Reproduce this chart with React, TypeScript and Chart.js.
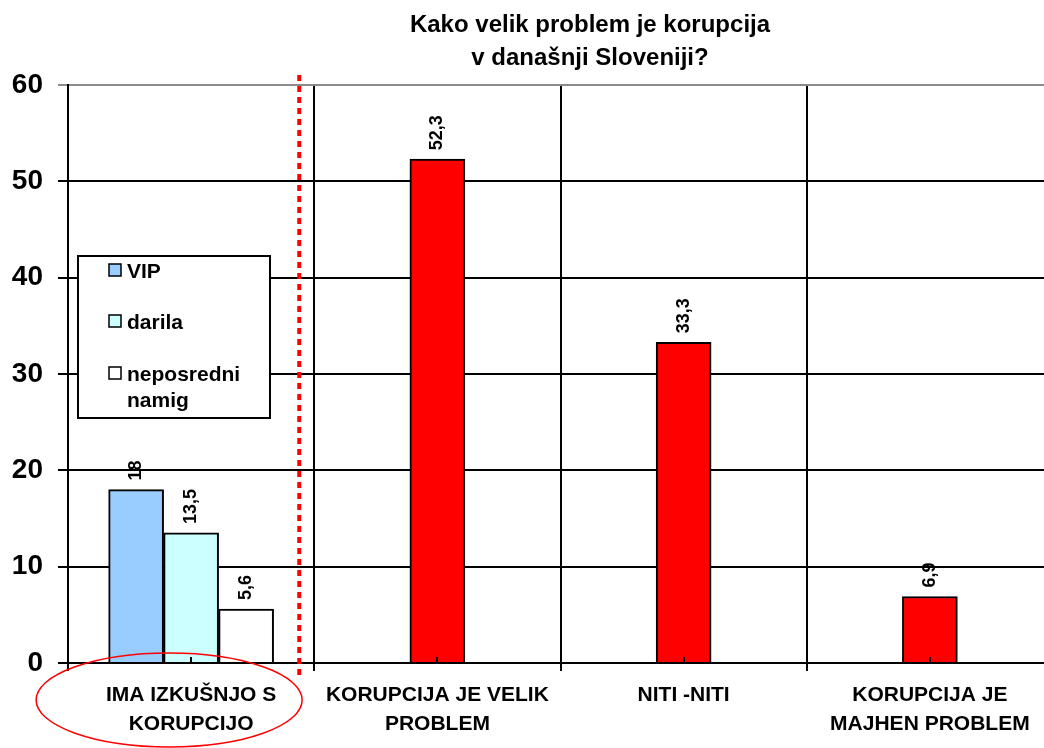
import React, { useEffect, useRef } from 'react';
import { Chart, registerables } from 'chart.js';

Chart.register(...registerables);

const categories: string[][] = [
  ['IMA IZKUŠNJO S', 'KORUPCIJO'],
  ['KORUPCIJA JE VELIK', 'PROBLEM'],
  ['NITI -NITI'],
  ['KORUPCIJA JE', 'MAJHEN PROBLEM'],
];
const vipValues = [18, null, null, null];
const darilaValues = [13.5, null, null, null];
const namigValues = [5.6, null, null, null];
const problemValues = [null, 52.3, 33.3, 6.9];
const legendLabels: string[][] = [['VIP'], ['darila'], ['neposredni', 'namig']];
const titleLines = ['Kako velik problem je korupcija', 'v današnji Sloveniji?'];
const yMin = 0;
const yMax = 60;
const yStep = 10;

const FONT = '"Liberation Sans", Arial, Helvetica, sans-serif';
const COL_VIP = '#99CCFF';
const COL_DARILA = '#CCFFFF';
const COL_NAMIG = '#FFFFFF';
const COL_RED = '#FF0000';

export default function App() {
  const ref = useRef<HTMLCanvasElement>(null);

  useEffect(() => {
    const canvas = ref.current!;
    const swatchColors = [COL_VIP, COL_DARILA, COL_NAMIG];

    const decor = {
      id: 'decor',
      afterDatasetsDraw(chart: any) {
        const ctx = chart.ctx as CanvasRenderingContext2D;
        const xs = chart.scales.x;
        const area = chart.chartArea;
        // small inner ticks at category centres
        ctx.save();
        ctx.strokeStyle = '#000';
        ctx.lineWidth = 2;
        for (let i = 0; i < categories.length; i++) {
          const px = Math.round(xs.getPixelForValue(i));
          ctx.beginPath();
          ctx.moveTo(px, area.bottom);
          ctx.lineTo(px, area.bottom - 6);
          ctx.stroke();
        }
        ctx.restore();
        // data labels
        ctx.save();
        ctx.fillStyle = '#000';
        ctx.font = `bold 18px ${FONT}`;
        chart.data.datasets.forEach((ds: any, di: number) => {
          const meta = chart.getDatasetMeta(di);
          meta.data.forEach((el: any, j: number) => {
            const v = ds.data[j];
            if (v === null || v === undefined) return;
            const p = el.getProps(['x', 'y'], true);
            if (!isFinite(p.x) || !isFinite(p.y)) return;
            ctx.save();
            ctx.translate(p.x, p.y - 9);
            ctx.rotate(-Math.PI / 2);
            ctx.textAlign = 'left';
            ctx.textBaseline = 'middle';
            ctx.fillText(String(v).replace('.', ','), 0, 0);
            ctx.restore();
          });
        });
        ctx.restore();
      },
      afterDraw(chart: any) {
        const ctx = chart.ctx as CanvasRenderingContext2D;
        const xs = chart.scales.x;
        const area = chart.chartArea;
        const c0 = xs.getPixelForValue(0);
        const c1 = xs.getPixelForValue(1);

        // red dotted separator
        ctx.save();
        const sepX = (c0 + c1) / 2 - 15;
        ctx.strokeStyle = COL_RED;
        ctx.lineWidth = 4;
        ctx.setLineDash([6, 5]);
        ctx.beginPath();
        ctx.moveTo(sepX, area.top - 10);
        ctx.lineTo(sepX, area.bottom + 12);
        ctx.stroke();
        ctx.restore();

        // legend box
        ctx.save();
        const lx = area.left + 10;
        const ly = 256;
        const lw = 192;
        const lh = 162;
        ctx.fillStyle = '#fff';
        ctx.fillRect(lx, ly, lw, lh);
        ctx.strokeStyle = '#000';
        ctx.lineWidth = 2;
        ctx.strokeRect(lx, ly, lw, lh);
        ctx.font = `bold 21px ${FONT}`;
        ctx.textBaseline = 'middle';
        ctx.textAlign = 'left';
        const rowY = [272, 323, 375];
        legendLabels.forEach((lines, i) => {
          const y = rowY[i];
          ctx.fillStyle = swatchColors[i];
          ctx.fillRect(lx + 31, y - 8, 12, 12);
          ctx.lineWidth = 1.5;
          ctx.strokeStyle = '#000';
          ctx.strokeRect(lx + 31, y - 8, 12, 12);
          ctx.fillStyle = '#000';
          lines.forEach((t, k) => ctx.fillText(t, lx + 49, y + k * 26));
        });
        ctx.restore();

        // title
        ctx.save();
        ctx.fillStyle = '#000';
        ctx.font = `bold 24px ${FONT}`;
        ctx.textAlign = 'center';
        ctx.textBaseline = 'alphabetic';
        ctx.fillText(titleLines[0], 590, 32);
        ctx.fillText(titleLines[1], 590, 65);
        ctx.restore();

        // red ellipse around first category label
        ctx.save();
        ctx.strokeStyle = COL_RED;
        ctx.lineWidth = 1.5;
        ctx.beginPath();
        ctx.ellipse(c0 - 22, 700, 133, 47, 0, 0, Math.PI * 2);
        ctx.stroke();
        ctx.restore();
      },
    };

    const common = {
      borderColor: '#000',
      borderWidth: 2,
      barThickness: 55,
      skipNull: true,
    };

    const chart = new Chart(canvas, {
      type: 'bar',
      data: {
        labels: categories as any,
        datasets: [
          { label: 'VIP', data: vipValues, backgroundColor: COL_VIP, ...common },
          { label: 'darila', data: darilaValues, backgroundColor: COL_DARILA, ...common },
          { label: 'neposredni namig', data: namigValues, backgroundColor: COL_NAMIG, ...common },
          { label: 'problem', data: problemValues, backgroundColor: COL_RED, ...common },
        ] as any,
      },
      options: {
        responsive: false,
        animation: false,
        devicePixelRatio: 1,
        layout: { padding: { top: 85, right: 3, left: 0, bottom: 0 } },
        plugins: {
          legend: { display: false },
          tooltip: { enabled: false },
          title: { display: false },
        },
        scales: {
          x: {
            offset: true,
            grid: {
              offset: true,
              color: '#000',
              lineWidth: 2,
              drawTicks: true,
              tickLength: 8,
            },
            border: { color: '#000', width: 2 },
            ticks: {
              color: '#000',
              padding: 10,
              maxRotation: 0,
              autoSkip: false,
              font: { family: FONT, size: 21, weight: 'bold', lineHeight: 1.38 },
            },
            afterFit(scale: any) {
              scale.height = 85;
            },
          },
          y: {
            min: yMin,
            max: yMax,
            ticks: {
              stepSize: yStep,
              color: '#000',
              padding: 15,
              font: { family: FONT, size: 28, weight: 'bold' },
            },
            grid: {
              color: (c: any) => (c.tick && c.tick.value === yMax ? '#8c8c8c' : '#000'),
              lineWidth: 2,
              tickLength: 10,
            },
            border: { color: '#000', width: 2 },
            afterFit(scale: any) {
              scale.width = 68;
            },
          },
        },
      } as any,
      plugins: [decor],
    });
    return () => chart.destroy();
  }, []);

  return (
    <div
      style={{
        position: 'absolute',
        left: 0,
        top: 0,
        width: 1044,
        height: 748,
        overflow: 'hidden',
        background: '#fff',
      }}
    >
      <canvas ref={ref} width={1056} height={748} style={{ display: 'block', width: 1056, height: 748 }} />
    </div>
  );
}
